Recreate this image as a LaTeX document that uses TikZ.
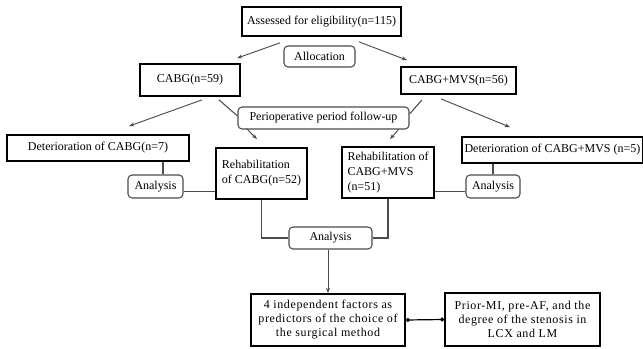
\documentclass[tikz,border=0pt]{standalone}
\usepackage{fontspec}
\setmainfont{Liberation Serif}
\newfontfamily\wideserif[LetterSpace=5]{Liberation Serif}
\usetikzlibrary{arrows.meta,positioning,calc}
\definecolor{lineDark}{gray}{0.00}
\definecolor{lineGray}{gray}{0.30}

\begin{document}
\begin{tikzpicture}[x=0.75pt, y=-0.75pt,
      box/.style={draw=lineDark, line width=1.3pt, fill=white, align=center,
                  inner xsep=2pt, inner ysep=2pt,
                  font=\fontsize{9}{11.25}\selectfont},
      roundbox/.style={box, draw=lineGray, line width=0.8pt, rounded corners=3pt},
      flow/.style={-{Stealth[length=4pt, width=3pt]}, line width=0.7pt, draw=lineGray},
      link/.style={line width=0.8pt, draw=lineGray},
      dots/.style={{Circle[length=3pt]}-{Circle[length=3pt]}, line width=0.9pt, draw=lineDark}]

    \useasboundingbox (0,0) rectangle (643,349);

    % allocation
    \node[box, minimum width=119.25pt, minimum height=21.75pt] (elig) at (321.5,21.5)
      {Assessed for eligibility(n=115)};
    \node[roundbox, minimum width=53.25pt, minimum height=15.75pt] (alloc) at (319.5,56.5)
      {Allocation};
    \node[box, minimum width=75pt, minimum height=24pt] (cabg) at (190,80)
      {CABG(n=59)};
    \node[box, minimum width=86.25pt, minimum height=20.25pt] (mvs) at (458.5,80.5)
      {CABG+MVS(n=56)};

    % follow-up
    \node[roundbox, minimum width=128.25pt, minimum height=16.5pt] (peri) at (323.5,118)
      {Perioperative period follow-up};
    \node[box, minimum width=136.5pt, minimum height=19.5pt] (detc) at (98,148)
      {Deterioration of CABG(n=7)};
    \node[box, minimum width=135.75pt, minimum height=19.5pt, inner xsep=1pt] (detm) at (552.5,150)
      {Deterioration of CABG+MVS (n=5)};
    \node[box, minimum width=68.25pt, minimum height=38.25pt, align=left] (rehc) at (261.5,173.5)
      {Rehabilitation\\of CABG(n=52)};
    \node[box, minimum width=69pt, minimum height=38.25pt, align=left] (rehm) at (388,172.5)
      {Rehabilitation of\\CABG+MVS\\(n=51)};
    \node[roundbox, minimum width=41.25pt, minimum height=17.25pt] (anl) at (155.5,186.5)
      {Analysis};
    \node[roundbox, minimum width=40.5pt, minimum height=17.25pt] (anr) at (493,186.5)
      {Analysis};

    % results
    \node[roundbox, minimum width=62.25pt, minimum height=16.5pt] (anb) at (330.5,238)
      {Analysis};
    \node[box, minimum width=115.5pt, minimum height=39pt,
          font=\fontsize{9}{10.5}\selectfont\wideserif] (fac) at (328,320)
      {4 independent factors as\\predictors of the choice of\\the surgical method};
    \node[box, minimum width=116.25pt, minimum height=39.75pt,
          font=\fontsize{9}{10.5}\selectfont\wideserif] (pri) at (522.5,319.5)
      {Prior-MI, pre-AF, and the\\degree of the stenosis in\\LCX and LM};

    \draw[flow] ($(elig.south)+(-41.5,6)$) -- ($(cabg.north)+(47,-5)$);
    \draw[flow] ($(elig.south)+(37.5,5)$) -- ($(mvs.north)+(-51.5,-6)$);
    \draw[flow] ($(cabg.south)+(12,3)$) -- ($(detc.north)+(31,-8)$);
    \draw[link] ($(cabg.south)+(29,3)$) -- ($(peri.west)+(0,-2)$);
    \draw[flow] ($(peri.south west)+(9,-1)$) -- ($(rehc.north)+(-4.5,-8)$);
    \draw[link] ($(mvs.south)+(-36.5,5)$) -- ($(peri.east)+(0,-4)$);
    \draw[flow] ($(peri.south east)+(-11,0)$) -- ($(rehm.north)+(2,-7)$);
    \draw[flow] ($(mvs.south)+(-17.5,4)$) -- ($(detm.north)+(-42.5,-9)$);

    \coordinate (lc) at ($(anl.north)+(7.5,0)$);
    \draw[link] (lc) -- (lc |- detc.south);
    \draw[link] (anr.north) -- (anr.north |- detm.south);
    \coordinate (la) at ($(anl.east)+(0,5)$);
    \draw[link] (la) -- (la -| rehc.west);
    \coordinate (ra) at ($(anr.west)+(0,5)$);
    \draw[link] (ra) -- (ra -| rehm.east);

    \draw[link] (rehc.south) |- (anb.west);
    \draw[link] (rehm.south) |- (anb.east);
    \draw[flow] (anb.south -| fac.north) -- (fac.north);
    \draw[dots] (fac.east) -- (pri.west);
  \end{tikzpicture}
\end{document}
